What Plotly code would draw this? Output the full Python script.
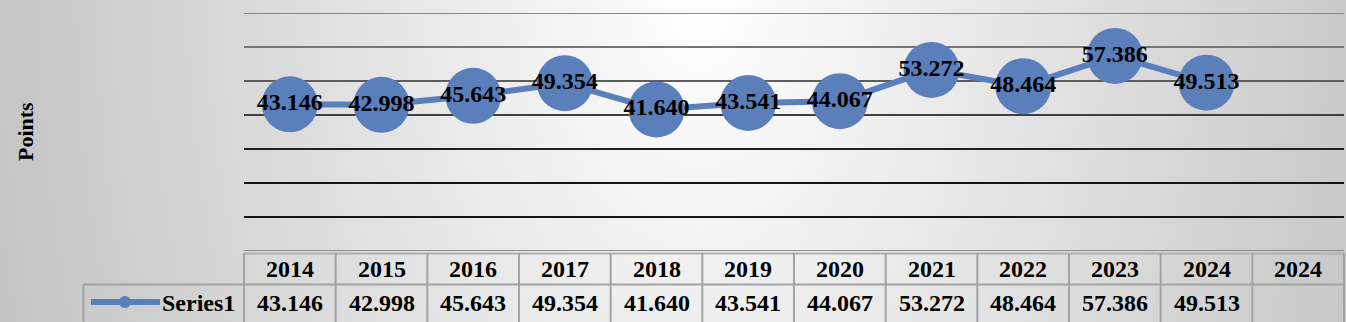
import base64
import struct
import zlib

import plotly.graph_objects as go

# ---------------- data ----------------
categories = ["2014", "2015", "2016", "2017", "2018", "2019", "2020",
              "2021", "2022", "2023", "2024", "2024"]
series_name = "Series1"
values = [43.146, 42.998, 45.643, 49.354, 41.640, 43.541, 44.067,
          53.272, 48.464, 57.386, 49.513, None]
grid_values = [0, 10, 20, 30, 40, 50, 60, 70]
grid_colors = ["#8a8a8a", "#151515", "#151515", "#202020", "#404040",
               "#5e5e5e", "#767676", "#888888"]
y_title = "Points"

# ---------------- geometry ----------------
W, H = 1346, 322
L, R, T, B = 244, 2, 13, 71
PW, PH = W - L - R, H - T - B
FONT = "Liberation Serif"
BLUE = "#5b7fbb"
BORDER = "#a3a3a3"
FS = 24


def px(x):
    return (x - L) / PW


def py(y):
    return (H - B - y) / PH


# ---------------- background gradient as PNG ----------------
def make_png(w, h, fn):
    raw = bytearray()
    for yy in range(h):
        raw.append(0)
        for xx in range(w):
            raw.append(fn(xx, yy))
    def chunk(tag, data):
        c = struct.pack(">I", len(data)) + tag + data
        return c + struct.pack(">I", zlib.crc32(tag + data) & 0xFFFFFFFF)
    sig = b"\x89PNG\r\n\x1a\n"
    ihdr = struct.pack(">IIBBBBB", w, h, 8, 0, 0, 0, 0)
    return sig + chunk(b"IHDR", ihdr) + chunk(b"IDAT", zlib.compress(bytes(raw), 9)) + chunk(b"IEND", b"")


SC = 4
gw, gh = W // SC + 1, H // SC + 1


def grad(xx, yy):
    X, Y = xx * SC, yy * SC
    d = (((X - 700) / 700) ** 2 + ((Y + 20) / 1150) ** 2) ** 0.5
    d = min(d, 1.1)
    return max(0, min(255, int(round(255 - 57 * d))))


png = make_png(gw, gh, grad)
bg_uri = "data:image/png;base64," + base64.b64encode(png).decode()

# ---------------- figure ----------------
xs = list(range(len(categories)))
fig = go.Figure()
fig.add_trace(go.Scatter(
    x=xs, y=values, mode="lines+markers+text",
    line=dict(color=BLUE, width=6),
    marker=dict(color=BLUE, size=56),
    text=[f"{v:.3f}" if v is not None else "" for v in values],
    textposition="middle center",
    textfont=dict(family=FONT, size=FS, color="black", weight="bold"),
    hoverinfo="skip", showlegend=False, cliponaxis=False,
))

shapes = []
for gv, gc in zip(grid_values, grid_colors):
    shapes.append(dict(type="line", xref="paper", yref="y", x0=0, x1=1, y0=gv, y1=gv,
                       line=dict(color=gc, width=2), layer="below"))
shapes.append(dict(type="line", xref="paper", yref="paper", x0=0, x1=1,
                   y0=py(253.5), y1=py(253.5), line=dict(color="#b0b0b0", width=2)))
shapes.append(dict(type="line", xref="paper", yref="paper", x0=px(83), x1=px(1343.5),
                   y0=py(284.5), y1=py(284.5), line=dict(color=BORDER, width=2)))
n = len(categories)
for k in range(n + 1):
    xv = k / n
    shapes.append(dict(type="line", xref="paper", yref="paper", x0=xv, x1=xv,
                       y0=py(253), y1=py(H + 2), line=dict(color=BORDER, width=2)))
shapes.append(dict(type="line", xref="paper", yref="paper", x0=px(83.5), x1=px(83.5),
                   y0=py(284.5), y1=py(H + 2), line=dict(color=BORDER, width=2)))
shapes.append(dict(type="line", xref="paper", yref="paper", x0=px(91), x1=px(160),
                   y0=py(302), y1=py(302), line=dict(color=BLUE, width=6)))
shapes.append(dict(type="circle", xref="paper", yref="paper", x0=px(119), x1=px(131),
                   y0=py(296), y1=py(308), fillcolor=BLUE, line=dict(width=0)))

annotations = []
for i, c in enumerate(categories):
    annotations.append(dict(x=i, xref="x", y=py(268.5), yref="paper", text=f"<b>{c}</b>",
                            showarrow=False, font=dict(family=FONT, size=FS, color="black"),
                            xanchor="center", yanchor="middle"))
    v = values[i]
    annotations.append(dict(x=i, xref="x", y=py(302.5), yref="paper",
                            text=f"<b>{v:.3f}</b>" if v is not None else "",
                            showarrow=False, font=dict(family=FONT, size=FS, color="black"),
                            xanchor="center", yanchor="middle"))
annotations.append(dict(x=px(237), y=py(302.5), xref="paper", yref="paper",
                        text=f"<b>{series_name}</b>", showarrow=False,
                        font=dict(family=FONT, size=FS, color="black"),
                        xanchor="right", yanchor="middle"))
annotations.append(dict(x=px(25), y=py(132), xref="paper", yref="paper",
                        text=f"<b>{y_title}</b>", showarrow=False, textangle=-90,
                        font=dict(family=FONT, size=22, color="black"),
                        xanchor="center", yanchor="middle"))

fig.update_layout(
    width=W, height=H,
    margin=dict(l=L, r=R, t=T, b=B, pad=0),
    paper_bgcolor="white", plot_bgcolor="rgba(0,0,0,0)",
    xaxis=dict(range=[-0.5, n - 0.5], showgrid=False, zeroline=False,
               showticklabels=False, ticks="", showline=False, fixedrange=True),
    yaxis=dict(range=[0, 70], showgrid=False, zeroline=False,
               showticklabels=False, ticks="", showline=False, fixedrange=True),
    shapes=shapes, annotations=annotations,
    images=[dict(source=bg_uri, xref="paper", yref="paper",
                 x=-L / PW, y=1 + T / PH, sizex=W / PW, sizey=H / PH,
                 xanchor="left", yanchor="top", sizing="stretch", layer="below")],
    showlegend=False,
)

fig.write_html(
    "out.html",
    config=dict(displayModeBar=False),
    post_script="document.body.style.margin='0';document.body.style.padding='0';"
                "document.body.style.overflow='hidden';",
)
